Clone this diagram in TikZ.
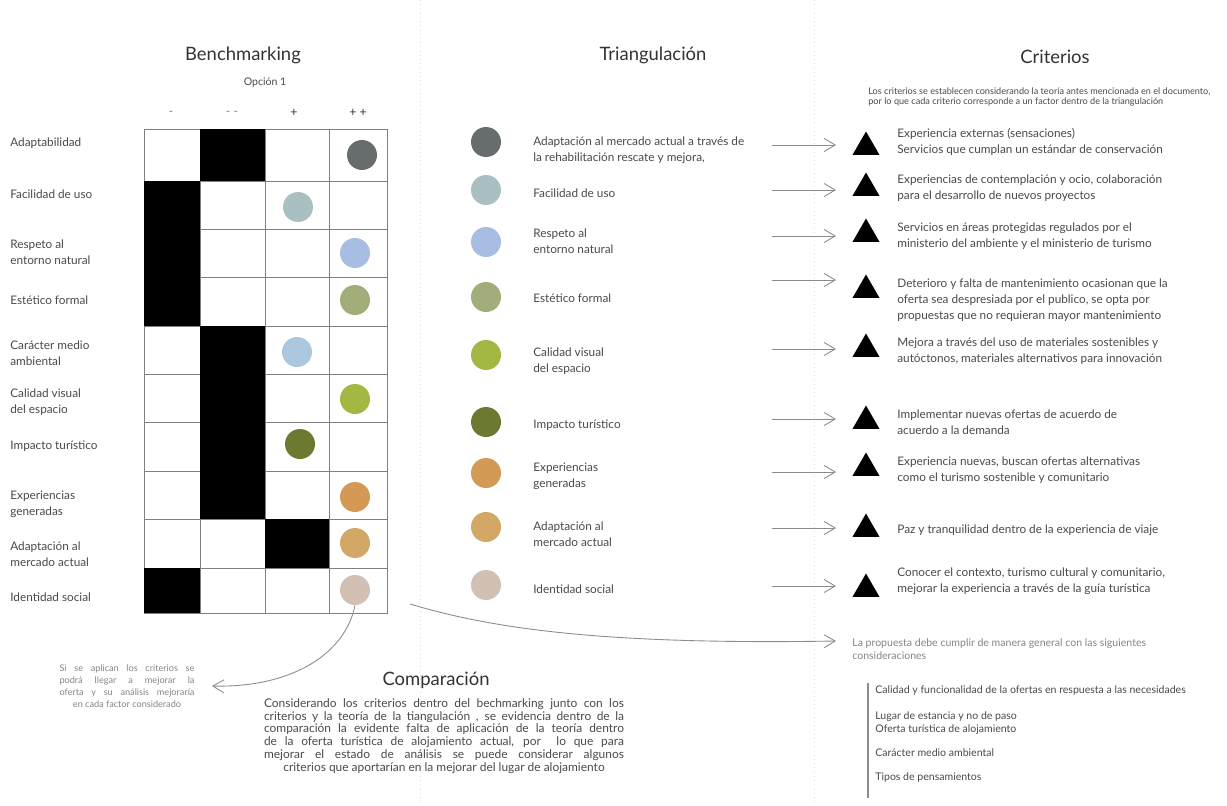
\documentclass[tikz,border=0pt]{standalone}
\usepackage{fontspec}
\setmainfont{Lato}
\usepackage{xcolor}
\usetikzlibrary{arrows.meta,positioning,shapes.geometric}

\definecolor{txt}{HTML}{4A4A4A}
\definecolor{ttl}{HTML}{333333}
\definecolor{soft}{HTML}{858585}
\definecolor{linegray}{HTML}{8C8C8C}
\definecolor{dotA}{HTML}{676C6C}
\definecolor{dotB}{HTML}{A9BFC1}
\definecolor{dotC}{HTML}{A8BDE2}
\definecolor{dotD}{HTML}{A2AE7A}
\definecolor{dotE}{HTML}{ABC8DE}
\definecolor{dotF}{HTML}{A2B843}
\definecolor{dotG}{HTML}{6B7A30}
\definecolor{dotH}{HTML}{D49A55}
\definecolor{dotI}{HTML}{D3A766}
\definecolor{dotJ}{HTML}{D3C0B4}

\tikzset{
  lbl/.style={font=\fontsize{6.7}{9}\selectfont, text=txt, align=left, anchor=west, inner sep=0pt},
  head/.style={font=\fontsize{10.5}{12}\selectfont, text=ttl, inner sep=0pt},
  dot/.style={circle, minimum size=0.6cm, inner sep=0pt},
  tri/.style={regular polygon, regular polygon sides=3, fill=black, minimum size=0.62cm, inner sep=0pt},
  gridline/.style={draw=gray, line width=0.5pt},
  conn/.style={draw=linegray, line width=0.5pt, -{Straight Barb[length=2.2mm,width=2.6mm]}}
}

\begin{document}
\begin{tikzpicture}[x=0.02cm, y=-0.02cm]
    \fill[white] (0,0) rectangle (1227,805);
    \useasboundingbox (0,0) rectangle (1227,805);

    % faint separators
    \draw[gray!25, dotted] (420,0) -- (420,805);
    \draw[gray!25, dotted] (814,0) -- (814,805);

    % Benchmarking
    \node[head] (bench) at (243,55) {Benchmarking};
    \node[font=\fontsize{6}{7}\selectfont, text=txt] (opt) at (265,83) {Opción 1};
    \node[font=\fontsize{7}{8}\selectfont, text=soft] (h1) at (171,113) {-};
    \node[font=\fontsize{7}{8}\selectfont, text=soft] (h2) at (232,113) {- -};
    \node[font=\fontsize{7}{8}\selectfont, text=ttl] (h3) at (294,113) {+};
    \node[font=\fontsize{7}{8}\selectfont, text=ttl] (h4) at (358,113) {+ +};

    \draw[gridline] (144,129) rectangle (387,613);
    \foreach \x in {200,265,329} \draw[gridline] (\x,129) -- (\x,613);
    \foreach \y in {181,229,277,326,374,422,471,519,568} \draw[gridline] (144,\y) -- (387,\y);

    \fill[black] (144,181) rectangle (200,326);
    \fill[black] (200,129) rectangle (265,181);
    \fill[black] (200,326) rectangle (265,519);
    \fill[black] (265,519) rectangle (329,568);
    \fill[black] (144,568) rectangle (200,613);

    \node[dot, fill=dotA] (g1) at (362,155) {};
    \node[dot, fill=dotB] (g2) at (298,207) {};
    \node[dot, fill=dotC] (g3) at (355,253) {};
    \node[dot, fill=dotD] (g4) at (355,300) {};
    \node[dot, fill=dotE] (g5) at (297,352) {};
    \node[dot, fill=dotF] (g6) at (355,399) {};
    \node[dot, fill=dotG] (g7) at (300,444) {};
    \node[dot, fill=dotH] (g8) at (355,497) {};
    \node[dot, fill=dotI] (g9) at (355,543) {};
    \node[dot, fill=dotJ] (g10) at (355,590) {};

    \node[lbl] (r1) at (10,143) {Adaptabilidad};
    \node[lbl] (r2) at (10,194) {Facilidad de uso};
    \node[lbl] (r3) at (10,252) {Respeto al\\entorno natural};
    \node[lbl] (r4) at (10,300) {Estético formal};
    \node[lbl] (r5) at (10,353) {Carácter medio\\ambiental};
    \node[lbl] (r6) at (10,402) {Calidad visual\\del espacio};
    \node[lbl] (r7) at (10,446) {Impacto turístico};
    \node[lbl] (r8) at (10,504) {Experiencias\\generadas};
    \node[lbl] (r9) at (10,554) {Adaptación al\\mercado actual};
    \node[lbl] (r10) at (10,597) {Identidad social};

    % Triangulacion
    \node[head] (trian) at (653,55) {Triangulación};
    \node[dot, fill=dotA] (t1) at (486,142) {};
    \node[dot, fill=dotB] (t2) at (486,190) {};
    \node[dot, fill=dotC] (t3) at (486,242) {};
    \node[dot, fill=dotD] (t4) at (486,297) {};
    \node[dot, fill=dotF] (t5) at (486,355) {};
    \node[dot, fill=dotG] (t6) at (486,422) {};
    \node[dot, fill=dotH] (t7) at (486,473) {};
    \node[dot, fill=dotI] (t8) at (486,527) {};
    \node[dot, fill=dotJ] (t9) at (486,585) {};

    \node[lbl] (l1) at (533,150) {Adaptación al mercado actual a través de\\la rehabilitación rescate y mejora,};
    \node[lbl] (l2) at (533,193) {Facilidad de uso};
    \node[lbl] (l3) at (533,241) {Respeto al\\entorno natural};
    \node[lbl] (l4) at (533,298) {Estético formal};
    \node[lbl] (l5) at (533,361) {Calidad visual\\del espacio};
    \node[lbl] (l6) at (533,425) {Impacto turístico};
    \node[lbl] (l7) at (533,476) {Experiencias\\generadas};
    \node[lbl] (l8) at (533,534) {Adaptación al\\mercado actual};
    \node[lbl] (l9) at (533,589) {Identidad social};

    \foreach \i/\y in {1/145,2/190,3/236,4/280,5/349,6/419,7/472,8/528,9/586} {
        \coordinate (a\i) at (772,\y);
        \coordinate (b\i) at (836,\y);
        \draw[conn] (a\i) -- (b\i);
    }

    % Criterios
    \node[head] (crit) at (1055,57) {Criterios};
    \node[font=\fontsize{5.2}{5.8}\selectfont, text=txt, align=left, anchor=west, inner sep=0pt] (critsub) at (868,97)
        {Los criterios se establecen considerando la teoría antes mencionada en el documento,\\por lo que cada criterio corresponde a un factor dentro de la triangulación};

    \node[tri] (k1) at (866,147) {};
    \node[tri] (k2) at (866,188) {};
    \node[tri] (k3) at (866,234) {};
    \node[tri] (k4) at (866,290) {};
    \node[tri] (k5) at (866,349) {};
    \node[tri] (k6) at (866,421) {};
    \node[tri] (k7) at (866,468) {};
    \node[tri] (k8) at (866,529) {};
    \node[tri] (k9) at (866,589) {};

    \node[lbl] (c1) at (897,142) {Experiencia externas (sensaciones)\\Servicios que cumplan un estándar de conservación};
    \node[lbl] (c2) at (897,188) {Experiencias de contemplación y ocio, colaboración\\para el desarrollo de nuevos proyectos};
    \node[lbl] (c3) at (897,236) {Servicios en áreas protegidas regulados por el\\ministerio del ambiente y el ministerio de turismo};
    \node[lbl] (c4) at (897,300) {Deterioro y falta de mantenimiento ocasionan que la\\oferta sea despresiada por el publico, se opta por\\propuestas que no requieran mayor mantenimiento};
    \node[lbl] (c5) at (897,351) {Mejora a través del uso de materiales sostenibles y\\autóctonos, materiales alternativos para innovación};
    \node[lbl] (c6) at (897,422) {Implementar nuevas ofertas de acuerdo de\\acuerdo a la demanda};
    \node[lbl] (c7) at (897,470) {Experiencia nuevas, buscan ofertas alternativas\\como el turismo sostenible y comunitario};
    \node[lbl] (c8) at (897,530) {Paz y tranquilidad dentro de la experiencia de viaje};
    \node[lbl] (c9) at (897,581) {Conocer el contexto, turismo cultural y comunitario,\\mejorar la experiencia a través de la guía turística};

    % Comparacion
    \node[head] (comp) at (436,680) {Comparación};
    \node[font=\fontsize{6.8}{7.3}\selectfont, text=txt, text width=7.2cm, align=justify, inner sep=0pt] (comptext) at (444,736)
        {Considerando los criterios dentro del bechmarking junto con los\linebreak
        criterios y la teoría de la tiangulación , se evidencia dentro de la\linebreak
        comparación la evidente falta de aplicación de la teoría dentro\linebreak
        de la oferta turística de alojamiento actual, por \ lo que para\linebreak
        mejorar el estado de análisis se puede considerar algunos\linebreak
        \hspace*{\fill}criterios que aportarían en la mejorar del lugar de alojamiento\hspace*{\fill}};

    \node[font=\fontsize{5.2}{6.8}\selectfont, text=soft, text width=2.7cm, align=justify, inner sep=0pt] (note) at (127,686)
        {Si se aplican los criterios se\linebreak podrá llegar a mejorar la\linebreak oferta y su análisis mejoraría\linebreak
        \hspace*{\fill}en cada factor considerado\hspace*{\fill}};
    \coordinate (noteend) at (212,686);
    \draw[conn] (g10.south) .. controls (345,655) and (290,688) .. (noteend);

    % Consideraciones
    \coordinate (gridout) at (410,604);
    \coordinate (propin) at (836,641);
    \draw[conn] (gridout) .. controls (490,628) and (600,645) .. (propin);
    \node[font=\fontsize{6}{7.4}\selectfont, text=soft, align=left, anchor=west, inner sep=0pt] (prop) at (852,649)
        {La propuesta debe cumplir de manera general con las siguientes\\consideraciones};

    \draw[linegray, line width=0.8pt] (868,683) -- (868,798);
    \node[font=\fontsize{6}{7.4}\selectfont, text=txt, anchor=west, inner sep=0pt] (q1) at (875,691) {Calidad y funcionalidad de la ofertas en respuesta a las necesidades};
    \node[font=\fontsize{6}{7.4}\selectfont, text=txt, align=left, anchor=west, inner sep=0pt] (q2) at (875,723) {Lugar de estancia y no de paso\\Oferta turística de alojamiento};
    \node[font=\fontsize{6}{7.4}\selectfont, text=txt, anchor=west, inner sep=0pt] (q3) at (875,753) {Carácter medio ambiental};
    \node[font=\fontsize{6}{7.4}\selectfont, text=txt, anchor=west, inner sep=0pt] (q4) at (875,778) {Tipos de pensamientos};
\end{tikzpicture}
\end{document}
